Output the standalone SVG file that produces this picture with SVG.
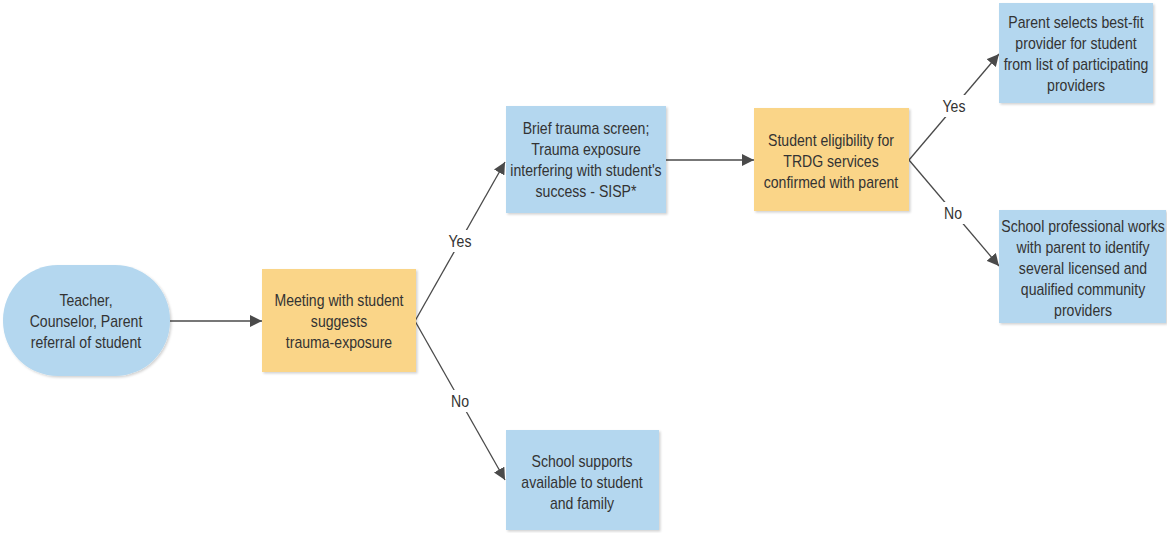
<svg xmlns="http://www.w3.org/2000/svg" width="1167" height="533" viewBox="0 0 1167 533">
<style>
.blue{fill:#b4d7ef}
.orange{fill:#fad588}
.t{font-family:"Liberation Sans",Arial,sans-serif;font-size:16px;fill:#333;text-anchor:middle}
.lbl{font-family:"Liberation Sans",Arial,sans-serif;font-size:16px;fill:#333;text-anchor:middle}
.c{stroke:#4a4a4a;stroke-width:1.3;fill:none}
</style>
<defs>
<filter id="sh" x="-10%" y="-10%" width="125%" height="125%">
<feDropShadow dx="1.5" dy="1.5" stdDeviation="1.2" flood-color="#000" flood-opacity="0.18"/>
</filter>
<marker id="ah" markerUnits="userSpaceOnUse" markerWidth="14" markerHeight="12" refX="12" refY="6" orient="auto">
<path d="M0,0 L12,6 L0,12 Z" fill="#4a4a4a"/>
</marker>
</defs>
<g id="connectors">
<line class="c" x1="170" y1="321" x2="262" y2="321" marker-end="url(#ah)"/>
<line class="c" x1="666" y1="160" x2="754" y2="160" marker-end="url(#ah)"/>
<line class="c" x1="415" y1="321" x2="505" y2="162" marker-end="url(#ah)"/>
<line class="c" x1="415" y1="321" x2="505" y2="480" marker-end="url(#ah)"/>
<line class="c" x1="909" y1="160" x2="999" y2="54" marker-end="url(#ah)"/>
<line class="c" x1="909" y1="160" x2="999" y2="266" marker-end="url(#ah)"/>
<rect x="446" y="230" width="28" height="22" fill="#fff"/>
<text class="lbl" transform="translate(460 247) scale(0.88 1)">Yes</text>
<rect x="448" y="390" width="24" height="22" fill="#fff"/>
<text class="lbl" transform="translate(460 407) scale(0.88 1)">No</text>
<rect x="940" y="95" width="28" height="22" fill="#fff"/>
<text class="lbl" transform="translate(954 112) scale(0.88 1)">Yes</text>
<rect x="941" y="202" width="24" height="22" fill="#fff"/>
<text class="lbl" transform="translate(953 219) scale(0.88 1)">No</text>
</g>
<g id="n1">
<rect class="blue" x="3" y="265" width="167" height="111" rx="55" ry="55" filter="url(#sh)"/>
<text class="t" transform="translate(86 0) scale(0.88 1)"><tspan x="0" y="306">Teacher,</tspan><tspan x="0" y="327">Counselor, Parent</tspan><tspan x="0" y="348">referral of student</tspan></text>
</g>
<g id="n2">
<rect class="orange" x="262" y="269" width="154" height="103" filter="url(#sh)"/>
<text class="t" transform="translate(339 0) scale(0.88 1)"><tspan x="0" y="306">Meeting with student</tspan><tspan x="0" y="327">suggests</tspan><tspan x="0" y="348">trauma-exposure</tspan></text>
</g>
<g id="n3">
<rect class="blue" x="506" y="106" width="160" height="107" filter="url(#sh)"/>
<text class="t" transform="translate(586 0) scale(0.88 1)"><tspan x="0" y="134">Brief trauma screen;</tspan><tspan x="0" y="155">Trauma exposure</tspan><tspan x="0" y="176">interfering with student's</tspan><tspan x="0" y="197">success - SISP*</tspan></text>
</g>
<g id="n4">
<rect class="orange" x="754" y="108" width="155" height="103" filter="url(#sh)"/>
<text class="t" transform="translate(831 0) scale(0.88 1)"><tspan x="0" y="146">Student eligibility for</tspan><tspan x="0" y="167">TRDG services</tspan><tspan x="0" y="188">confirmed with parent</tspan></text>
</g>
<g id="n5">
<rect class="blue" x="506" y="430" width="153" height="100" filter="url(#sh)"/>
<text class="t" transform="translate(582 0) scale(0.88 1)"><tspan x="0" y="467">School supports</tspan><tspan x="0" y="488">available to student</tspan><tspan x="0" y="509">and family</tspan></text>
</g>
<g id="n6">
<rect class="blue" x="999" y="3" width="154" height="100" filter="url(#sh)"/>
<text class="t" transform="translate(1076 0) scale(0.88 1)"><tspan x="0" y="28">Parent selects best-fit</tspan><tspan x="0" y="49">provider for student</tspan><tspan x="0" y="70">from list of participating</tspan><tspan x="0" y="91">providers</tspan></text>
</g>
<g id="n7">
<rect class="blue" x="999" y="210" width="167" height="113" filter="url(#sh)"/>
<text class="t" transform="translate(1083 0) scale(0.88 1)"><tspan x="0" y="232">School professional works</tspan><tspan x="0" y="253">with parent to identify</tspan><tspan x="0" y="274">several licensed and</tspan><tspan x="0" y="295">qualified community</tspan><tspan x="0" y="316">providers</tspan></text>
</g>
</svg>
